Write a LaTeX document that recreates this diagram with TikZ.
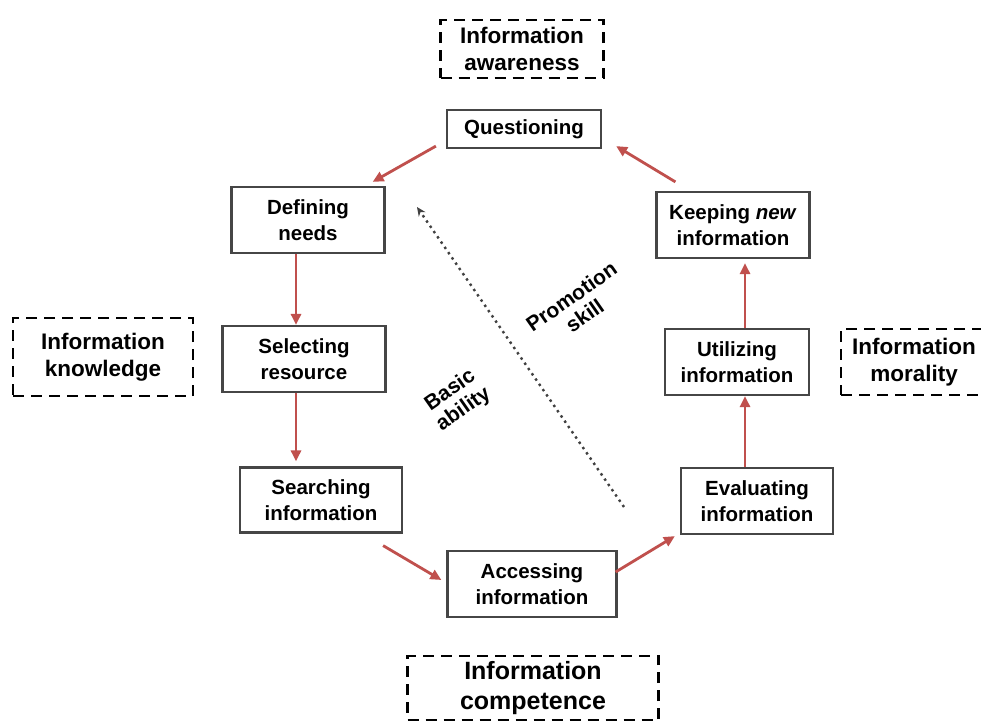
\documentclass[tikz,border=0pt]{standalone}
\usepackage{fontspec}
\setmainfont{Liberation Sans}
\usetikzlibrary{arrows.meta,calc}
\definecolor{arrred}{RGB}{192,80,77}
\definecolor{boxgray}{RGB}{70,70,70}
\begin{document}
\begin{tikzpicture}[x=1pt,y=-1pt,
  stepbox/.style={draw=boxgray,line width=2.2pt,inner sep=0pt,align=center,
    font=\fontsize{20.5}{26}\selectfont\bfseries},
  dashbox/.style={draw=black,line width=2.6pt,dash pattern=on 11pt off 7pt,inner sep=0pt,align=center,
    font=\fontsize{22.5}{27}\selectfont\bfseries},
  arr/.style={draw=arrred,line width=2.8pt,-{Triangle[length=11pt,width=10pt]}},
  skill/.style={align=center,rotate=35,font=\fontsize{21}{23}\selectfont\bfseries}]
\useasboundingbox (0,0) rectangle (981,720);
\fill[white] (0,0) rectangle (981,720);
% step boxes
\node[stepbox,minimum width=154pt,minimum height=38pt] (q) at (524,129) {Questioning};
\node[stepbox,minimum width=153pt,minimum height=66pt] (d) at (308,220) {Defining\\needs};
\node[stepbox,minimum width=163pt,minimum height=66pt] (s) at (304,359) {Selecting\\resource};
\node[stepbox,minimum width=162pt,minimum height=65pt] (se) at (321,500) {Searching\\information};
\node[stepbox,minimum width=169pt,minimum height=66pt] (a) at (532,584) {Accessing\\information};
\node[stepbox,minimum width=152pt,minimum height=66pt] (e) at (757,501) {Evaluating\\information};
\node[stepbox,minimum width=144pt,minimum height=66pt] (u) at (737,362) {Utilizing\\information};
\node[stepbox,minimum width=153pt,minimum height=66pt] (k) at (733,225) {Keeping \textit{new}\\information};
% dashed boxes
\node[dashbox,minimum width=163pt,minimum height=58pt] (ia) at (522,49) {Information\\awareness};
\node[dashbox,minimum width=180pt,minimum height=78pt] (ik) at (103,357) {Information\\knowledge};
\node[dashbox,minimum width=146pt,minimum height=66pt] (im) at (914,362) {Information\\morality};
\node[dashbox,minimum width=251pt,minimum height=64pt,font=\fontsize{25}{30}\selectfont\bfseries] (ic) at (533,688) {Information\\competence};
% connectors
\coordinate (lx) at (296,0);
\coordinate (rx) at (745,0);
\draw[arr] ($(q.south west)+(-10,-3)$) -- ($(d.north east)+(-13,-4)$);
\draw[arr] (d.south -| lx) -- (s.north -| lx);
\draw[arr] (s.south -| lx) -- ($(se.north -| lx)+(0,-5)$);
\draw[arr] ($(se.south east)+(-20,12)$) -- ($(a.west)+(-5,-4)$);
\draw[arr] ($(a.east)+(-2,-12)$) -- ($(e.south west)+(-5,1)$);
\draw[arr] (e.north -| rx) -- (u.south -| rx);
\draw[arr] (u.north -| rx) -- ($(k.south -| rx)+(0,4)$);
\draw[arr] ($(k.north west)+(20,-9)$) -- ($(q.south east)+(14,-3)$);
% dotted arrow
\coordinate (dotstart) at (624,507);
\coordinate (dotend) at (417,207);
\draw[draw=black!75,line width=2.4pt,dash pattern=on 2.4pt off 4pt,-{Stealth[length=9pt,width=8pt]}] (dotstart) -- (dotend);
% labels
\node[skill] (ps) at (578,306) {Promotion\\skill};
\node[skill] (ba) at (457,400) {Basic\\ability};
\end{tikzpicture}
\end{document}
